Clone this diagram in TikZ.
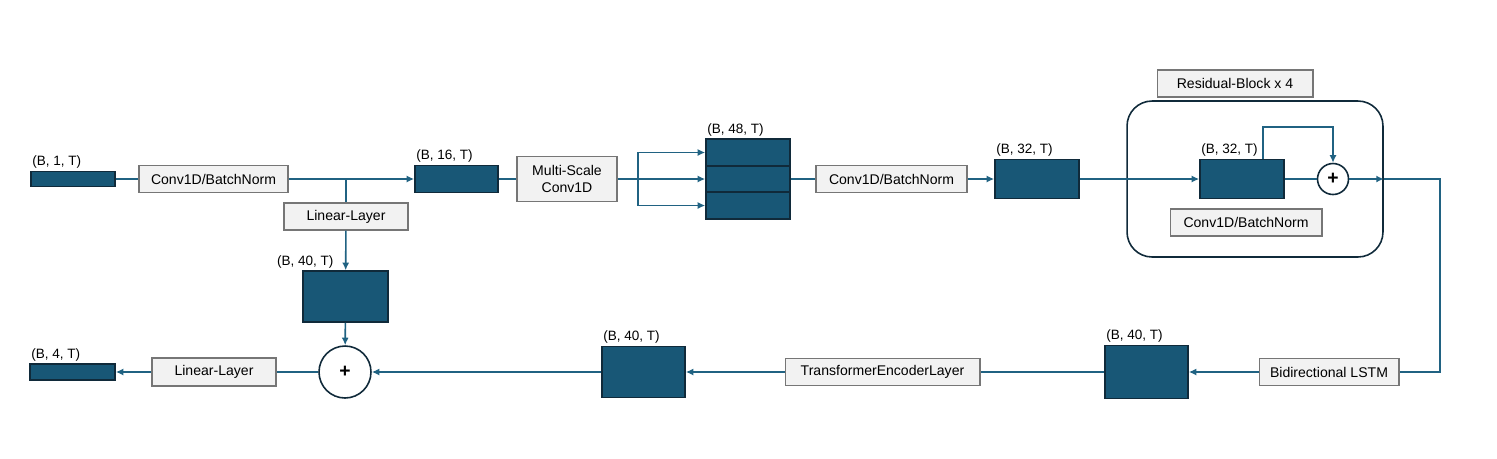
\documentclass[tikz,border=0pt]{standalone}
\usepackage{fontspec}
\setmainfont{Liberation Sans}
\usetikzlibrary{arrows.meta}

\definecolor{tensorblue}{RGB}{24,87,118}
\definecolor{tensoredge}{RGB}{16,42,58}
\definecolor{flowblue}{RGB}{32,98,130}
\definecolor{opgray}{RGB}{242,242,242}
\definecolor{opedge}{RGB}{118,118,118}

\tikzset{
  tensor/.style={draw=tensoredge, fill=tensorblue, line width=0.9pt, inner sep=0pt},
  op/.style={draw=opedge, fill=opgray, line width=0.6pt, inner sep=0pt, align=center, font=\fontsize{8}{9.6}\selectfont},
  dimlbl/.style={inner sep=1pt, anchor=south west, font=\fontsize{7.7}{9}\selectfont},
  sumnode/.style={circle, draw=tensoredge, line width=0.9pt, fill=white, inner sep=0pt, font=\bfseries\fontsize{11}{12}\selectfont},
  flow/.style={draw=flowblue, line width=0.9pt},
  flowarr/.style={flow, -{Latex[length=1.5mm,width=1.4mm]}}
}

\begin{document}
\begin{tikzpicture}[x=0.02cm, y=-0.02cm]
\useasboundingbox (0,0) rectangle (1497,458);

% top row
\node[tensor, minimum width=1.68cm, minimum height=0.30cm] (in) at (73,179) {};
\node[op, minimum width=2.98cm, minimum height=0.54cm] (conva) at (213.5,179) {Conv1D/BatchNorm};
\node[op, minimum width=2.48cm, minimum height=0.54cm] (lina) at (346,216.5) {Linear-Layer};
\node[tensor, minimum width=1.66cm, minimum height=0.54cm] (t16) at (456.5,179) {};
\node[op, minimum width=2.0cm, minimum height=0.9cm] (msconv) at (567,179) {Multi-Scale\\Conv1D};
\foreach \i/\y in {1/152.5,2/179,3/205.5}
  \node[tensor, minimum width=1.68cm, minimum height=0.53cm] (s\i) at (748,\y) {};
\node[op, minimum width=3.02cm, minimum height=0.54cm] (convb) at (891.5,179) {Conv1D/BatchNorm};
\node[tensor, minimum width=1.68cm, minimum height=0.78cm] (t32a) at (1037,179) {};

% residual block
\node[draw=tensoredge, line width=0.9pt, rounded corners=0.5cm, minimum width=5.12cm, minimum height=3.12cm] (resbox) at (1255,179) {};
\node[op, minimum width=3.12cm, minimum height=0.54cm] (reslbl) at (1235,83.5) {Residual-Block x 4};
\node[tensor, minimum width=1.68cm, minimum height=0.78cm] (t32b) at (1242,179) {};
\node[sumnode, minimum size=0.62cm] (sumb) at (1333,179) {+};
\node[op, minimum width=3.04cm, minimum height=0.54cm] (convc) at (1246,222.5) {Conv1D/BatchNorm};
\coordinate (bend) at (1440,179);

% bottom row
\node[op, minimum width=2.8cm, minimum height=0.54cm] (lstm) at (1329,372) {Bidirectional LSTM};
\node[tensor, minimum width=1.66cm, minimum height=1.06cm] (t40c) at (1146.5,372) {};
\node[op, minimum width=3.9cm, minimum height=0.54cm] (tel) at (882.5,372) {TransformerEncoderLayer};
\node[tensor, minimum width=1.66cm, minimum height=1.02cm] (t40b) at (643.5,372) {};
\node[tensor, minimum width=1.7cm, minimum height=1.02cm] (t40a) at (345.5,296.5) {};
\node[sumnode, minimum size=1.04cm] (suma) at (345,372) {+};
\node[op, minimum width=2.48cm, minimum height=0.56cm] (linb) at (214,372) {Linear-Layer};
\node[tensor, minimum width=1.7cm, minimum height=0.32cm] (out) at (72.5,372) {};

% shapes
\node[dimlbl] at (in.north west) {(B, 1, T)};
\node[dimlbl] at (t16.north west) {(B, 16, T)};
\node[dimlbl] at (s1.north west) {(B, 48, T)};
\node[dimlbl] at (t32a.north west) {(B, 32, T)};
\node[dimlbl] at (t32b.north west) {(B, 32, T)};
\node[dimlbl, anchor=south east] at ([xshift=-0.2cm]t40a.north) {(B, 40, T)};
\node[dimlbl] at (t40b.north west) {(B, 40, T)};
\node[dimlbl] at (t40c.north west) {(B, 40, T)};
\node[dimlbl] at (out.north west) {(B, 4, T)};

% connectors
\coordinate (split) at (346,179);
\coordinate (fork) at (638,179);
\draw[flow] (in) -- (conva);
\draw[flowarr] (conva) -- (t16);
\draw[flow] (split) -- (lina);
\draw[flowarr] (lina) -- (t40a);
\draw[flow] (t16) -- (msconv);
\draw[flow] (msconv) -- (fork);
\draw[flowarr] (fork) |- (s1);
\draw[flowarr] (fork) -- (s2);
\draw[flowarr] (fork) |- (s3);
\draw[flow] (s2) -- (convb);
\draw[flowarr] (convb) -- (t32a);
\draw[flowarr] (t32a) -- (t32b);
\draw[flow] (t32b) -- (sumb);
\draw[flowarr] ([xshift=0.42cm]t32b.north) -- ++(0,-32) -| (sumb);
\draw[flowarr] (sumb) -- (sumb -| resbox.east);
\draw[flow] (sumb -| resbox.east) -- (bend) |- (lstm);
\draw[flowarr] (lstm) -- (t40c);
\draw[flow] (t40c) -- (tel);
\draw[flowarr] (tel) -- (t40b);
\draw[flowarr] (t40b) -- (suma);
\draw[flowarr] (t40a) -- (suma);
\draw[flow] (suma) -- (linb);
\draw[flowarr] (linb) -- (out);
\end{tikzpicture}
\end{document}
